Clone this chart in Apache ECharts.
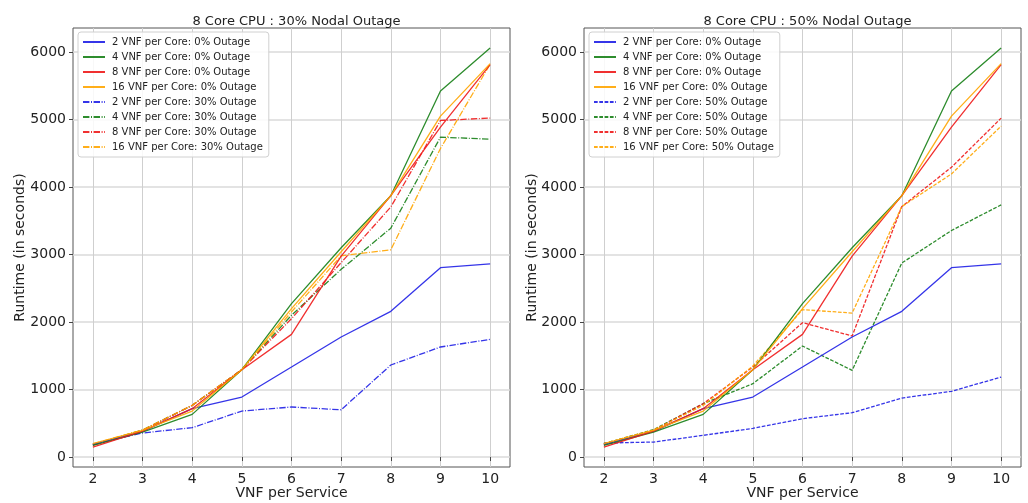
<!DOCTYPE html>
<html>
<head>
<meta charset="utf-8">
<script src="https://cdn.jsdelivr.net/npm/echarts@6/dist/echarts.min.js"></script>
<style>
html,body{margin:0;padding:0;background:#fff;}
#c{width:1028px;height:503px;}
</style>
</head>
<body>
<div id="c"></div>
<script>
// ---- data ----
const vnfPerService = [2, 3, 4, 5, 6, 7, 8, 9, 10];
const yTicks = [0, 1000, 2000, 3000, 4000, 5000, 6000];

// 0% outage (same in both panels)
const core2_0 = [188, 380, 716, 889, 1333, 1778, 2158, 2805, 2860];
const core4_0 = [173, 370, 632, 1294, 2272, 3100, 3871, 5421, 6059];
const core8_0 = [148, 385, 716, 1294, 1817, 2975, 3871, 4886, 5812];
const core16_0 = [200, 395, 681, 1294, 2198, 3040, 3871, 5050, 5827];

// 30% outage (left panel)
const core2_30 = [190, 356, 435, 681, 741, 700, 1363, 1630, 1743];
const core4_30 = [185, 400, 765, 1294, 2100, 2780, 3390, 4738, 4708];
const core8_30 = [175, 395, 765, 1294, 2050, 2880, 3704, 4985, 5020];
const core16_30 = [195, 400, 765, 1294, 2150, 2980, 3070, 4570, 5820];

// 50% outage (right panel)
const core2_50 = [207, 222, 321, 425, 568, 657, 874, 973, 1185];
const core4_50 = [198, 405, 790, 1086, 1644, 1284, 2874, 3355, 3735];
const core8_50 = [185, 395, 790, 1333, 1990, 1793, 3710, 4292, 5020];
const core16_50 = [200, 400, 765, 1348, 2183, 2133, 3710, 4193, 4901];

const titles = ['8 Core CPU : 30% Nodal Outage', '8 Core CPU : 50% Nodal Outage'];

// ---- build ----
const colors = {2: '#1f1fe6', 4: '#168016', 8: '#ee1a1a', 16: '#ffa500'};
const dashDot = [6.4, 1.6, 1, 1.6];
const dashed = [3.7, 1.6];
const FONT = 'DejaVu Sans';

function pts(arr) { return vnfPerService.map((x, i) => [x, arr[i]]); }

const allVals = [].concat(core2_0, core4_0, core8_0, core16_0, core2_30, core4_30, core8_30, core16_30,
  core2_50, core4_50, core8_50, core16_50);
const dMin = Math.min(...allVals), dMax = Math.max(...allVals);
const yMin = dMin - 0.05 * (dMax - dMin), yMax = dMax + 0.05 * (dMax - dMin);
const xMin = 2 - 0.05 * 8, xMax = 10 + 0.05 * 8;

const panels = [
  {sets: [[2, core2_0, 0], [4, core4_0, 0], [8, core8_0, 0], [16, core16_0, 0],
          [2, core2_30, 30], [4, core4_30, 30], [8, core8_30, 30], [16, core16_30, 30]], dash: dashDot},
  {sets: [[2, core2_0, 0], [4, core4_0, 0], [8, core8_0, 0], [16, core16_0, 0],
          [2, core2_50, 50], [4, core4_50, 50], [8, core8_50, 50], [16, core16_50, 50]], dash: dashed}
];

const gridLefts = [73, 584];
const yNameGaps = [46, 45];
const grids = [], xAxes = [], yAxes = [], series = [], legends = [], titleArr = [];
panels.forEach((p, k) => {
  grids.push({left: gridLefts[k], top: 28, width: 437, height: 439, show: true,
    outerBoundsMode: 'none', containLabel: false,
    borderColor: '#555', borderWidth: 1, backgroundColor: 'transparent'});
  xAxes.push({type: 'value', gridIndex: k, min: xMin, max: xMax,
    name: 'VNF per Service', nameLocation: 'middle', nameGap: 19, nameMoveOverlap: false,
    nameTextStyle: {fontFamily: FONT, fontSize: 14, color: '#222'},
    axisLine: {show: false},
    axisTick: {show: true, length: 4, customValues: vnfPerService, lineStyle: {color: '#444'}},
    axisLabel: {customValues: vnfPerService, fontFamily: FONT, fontSize: 14, color: '#222', margin: 5},
    splitLine: {show: true, lineStyle: {color: '#cfcfcf', width: 1}}
  });
  yAxes.push({type: 'value', gridIndex: k, min: yMin, max: yMax,
    name: 'Runtime (in seconds)', nameLocation: 'middle', nameGap: yNameGaps[k], nameMoveOverlap: false,
    nameTextStyle: {fontFamily: FONT, fontSize: 14, color: '#222'},
    axisLine: {show: false},
    axisTick: {show: true, length: 4, customValues: yTicks, lineStyle: {color: '#444'}},
    axisLabel: {customValues: yTicks, formatter: v => String(Math.round(v)),
      fontFamily: FONT, fontSize: 14, color: '#222', margin: 7},
    splitLine: {show: true, lineStyle: {color: '#dadada', width: 1.5}}
  });
  const names = [];
  p.sets.forEach(([core, arr, out]) => {
    const nm = core + ' VNF per Core: ' + out + '% Outage';
    names.push(nm);
    series.push({type: 'line', name: nm, xAxisIndex: k, yAxisIndex: k, data: pts(arr),
      symbol: 'none', showSymbol: false, animation: false,
      lineStyle: {color: colors[core], width: 1.3, type: out === 0 ? 'solid' : p.dash, opacity: 0.9},
      itemStyle: {color: colors[core]}, z: out === 0 ? 3 : 2});
  });
  legends.push({data: names, orient: 'vertical', left: gridLefts[k] + 5, top: 32,
    itemWidth: 22, itemHeight: 10, itemGap: 5,
    itemStyle: {opacity: 0},
    padding: [5, 6, 5, 4], backgroundColor: 'rgba(255,255,255,0.85)',
    borderColor: '#d0d0d0', borderWidth: 1, borderRadius: 3,
    textStyle: {fontFamily: FONT, fontSize: 10, color: '#222', padding: [0, 0, 0, 2]},
    selectedMode: false});
  titleArr.push({text: titles[k], left: gridLefts[k] + 218.5, top: 10, textAlign: 'center',
    textStyle: {fontFamily: FONT, fontSize: 13, fontWeight: 'normal', color: '#222'}});
});

const chart = echarts.init(document.getElementById('c'), null, {renderer: 'canvas'});
chart.setOption({
  animation: false,
  backgroundColor: '#fff',
  title: titleArr,
  grid: grids, xAxis: xAxes, yAxis: yAxes,
  legend: legends,
  series: series
});
</script>
</body>
</html>
